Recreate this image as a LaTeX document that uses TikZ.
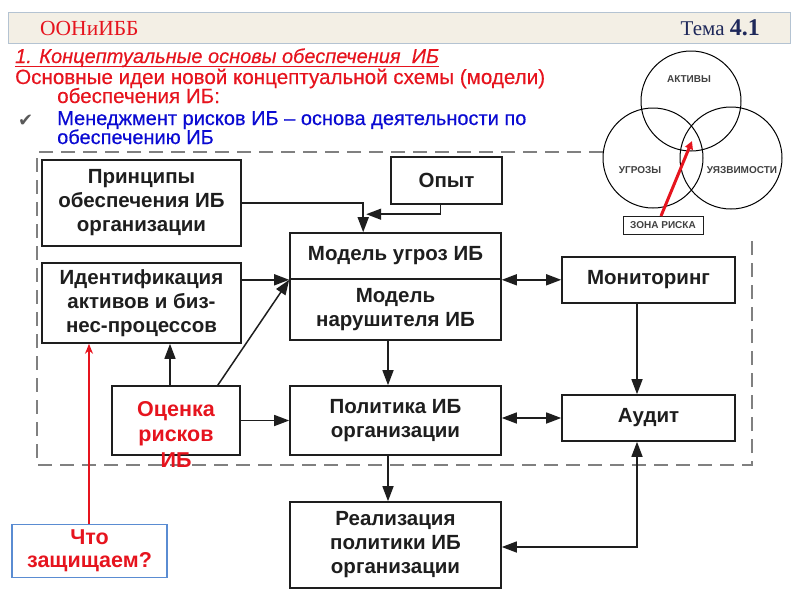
\documentclass[tikz,border=0pt]{standalone}
\usepackage{fontspec}
\setmainfont{Liberation Sans}
\newfontfamily\serfont{Liberation Serif}
\newfontfamily\titlefont[FakeBold=0.4]{Liberation Sans}
\newfontfamily\djv{DejaVu Sans}
\usetikzlibrary{arrows.meta,calc}
\definecolor{myred}{RGB}{230,20,30}
\definecolor{myblue}{RGB}{10,10,210}
\definecolor{navy}{RGB}{30,40,90}
\definecolor{beige}{RGB}{243,239,229}
\definecolor{hdborder}{RGB}{180,195,210}
\definecolor{txt}{RGB}{30,30,30}
\definecolor{boxblue}{RGB}{90,140,210}
\tikzset{
  box/.style={draw=txt, line width=1.6pt, fill=white, inner sep=0pt, align=center,
    text=txt, font=\fontsize{20.5}{24}\selectfont\bfseries},
  arr/.style={draw=txt, line width=1.5pt, -{Triangle[length=15pt,width=11pt]}},
  darr/.style={draw=txt, line width=1.5pt, {Triangle[length=15pt,width=11pt]}-{Triangle[length=15pt,width=11pt]}},
  hline/.style={anchor=base west, inner sep=0pt},
  vlab/.style={font=\fontsize{10}{12}\selectfont\bfseries, text=txt!85, inner sep=0pt}
}
\begin{document}
\begin{tikzpicture}[x=1pt,y=-1pt]
\useasboundingbox (0,0) rectangle (800,600);
% header
\node[draw=hdborder, fill=beige, line width=1pt, minimum width=782pt, minimum height=31pt, inner sep=0pt, anchor=north west] (hd) at (8,12) {};
\node[anchor=west, inner sep=0pt, text=myred, font=\serfont\fontsize{21.5}{24}\selectfont] (hl) at (40,28) {ООНиИББ};
\node[anchor=east, inner sep=0pt, text=navy, font=\serfont\fontsize{21}{24}\selectfont] (hr) at (760,28) {Тема {\fontsize{24}{24}\selectfont\bfseries 4.1}};
% title lines
\node[hline, text=myred, font=\titlefont\itshape\fontsize{20}{22}\selectfont] (t1) at (15,63) {1. Концептуальные основы обеспечения\ \ ИБ};
\draw[myred, line width=1pt] ($(t1.base west)+(0,3)$) -- ($(t1.base east)+(0,3)$);
\node[hline, text=myred, font=\titlefont\fontsize{20.6}{22}\selectfont] (t2) at (15,84) {Основные идеи новой концептуальной схемы (модели)};
\node[hline, text=myred, font=\titlefont\fontsize{20.6}{22}\selectfont] (t3) at (57,103) {обеспечения ИБ:};
\node[hline, text=black!65, font=\djv\fontsize{18}{20}\selectfont] (ck) at (18,126) {✔};
\node[hline, text=myblue, font=\titlefont\fontsize{20}{22}\selectfont] (t4) at (57,125) {Менеджмент рисков ИБ – основа деятельности по};
\node[hline, text=myblue, font=\titlefont\fontsize{20}{22}\selectfont] (t5) at (57,144) {обеспечению ИБ};
% dashed frame
\draw[gray, line width=1.5pt, dash pattern=on 14pt off 8pt] (603,152) -- (37,152) -- (37,465) -- (752,465) -- (752,237);
% Venn
\draw[black, line width=1pt] (691,101) circle (50);
\draw[black, line width=1pt] (653,158) circle (50);
\draw[black, line width=1pt] (731,158) circle (51);
\node[vlab] (va) at (689,79) {АКТИВЫ};
\node[vlab] (vu) at (640,170) {УГРОЗЫ};
\node[vlab] (vv) at (742,170) {УЯЗВИМОСТИ};
\node[draw=txt, line width=1pt, minimum width=80pt, minimum height=18pt, inner sep=0pt, vlab] (zone) at (663,225.5) {ЗОНА РИСКА};
\coordinate (zt) at (692,141);
\draw[myred, line width=3pt, -{Triangle[length=8pt,width=8pt]}] ($(zone.north)+(-2,0)$) -- (zt);
% boxes
\node[box, minimum width=199pt, minimum height=86pt] (pr) at (141.5,203) {Принципы\\обеспечения ИБ\\организации};
\node[box, minimum width=111pt, minimum height=47pt] (op) at (446.5,180.5) {Опыт};
\node[box, minimum width=211pt, minimum height=46pt] (mu) at (395.5,256) {Модель угроз ИБ};
\node[box, minimum width=211pt, minimum height=61pt] (mn) at (395.5,309.5) {Модель\\нарушителя ИБ};
\node[box, minimum width=199pt, minimum height=80pt] (id) at (141.5,303) {Идентификация\\активов и биз-\\нес-процессов};
\node[box, minimum width=173pt, minimum height=46pt] (mon) at (648.5,280) {Мониторинг};
\node[box, minimum width=128pt, minimum height=69pt] (oc) at (176,420.5) {};
\node[inner sep=0pt, align=center, text=myred, font=\fontsize{21.5}{25.5}\selectfont\bfseries] (octxt) at (176,434) {Оценка\\рисков\\ИБ};
\node[box, minimum width=211pt, minimum height=69pt] (pol) at (395.5,420.5) {Политика ИБ\\организации};
\node[box, minimum width=173pt, minimum height=46pt] (aud) at (648.5,418) {Аудит};
\node[box, minimum width=211pt, minimum height=86pt] (real) at (395.5,545) {Реализация\\политики ИБ\\организации};
\node[draw=boxblue, line width=1.5pt, minimum width=155pt, minimum height=53pt, inner sep=0pt, align=center, text=myred, font=\fontsize{21.5}{23}\selectfont\bfseries] (chto) at (89.5,551) {Что\\защищаем?};
% connectors
\draw[arr] (pr.east) -| ($(mu.north west)+(74,0)$);
\draw[arr] ($(op.south)+(-6,0)$) |- ($(mu.north west)+(77,-18)$);
\draw[arr] (id.east |- mu.south west) -- (mu.south west);
\draw[arr] ($(oc.north east)+(-23,0)$) -- (mu.south west);
\draw[arr] (oc.north -| 170,0) -- (id.south -| 170,0);
\draw[arr] (oc.east |- pol.west) -- (pol.west);
\draw[arr] (mn.south -| 388,0) -- (pol.north -| 388,0);
\draw[arr] (pol.south -| 388,0) -- (real.north -| 388,0);
\draw[darr] (mu.south east) -- (mon.west |- mu.south east);
\draw[darr] (pol.east |- aud.west) -- (aud.west);
\draw[arr] (mon.south -| 637,0) -- (aud.north -| 637,0);
\draw[darr] (real.east |- 0,547) -| (aud.south -| 637,0);
\draw[myred, line width=1.5pt, -{Stealth[length=10pt,width=8pt]}] (chto.north -| 89,0) -- (id.south -| 89,0);
\end{tikzpicture}
\end{document}
